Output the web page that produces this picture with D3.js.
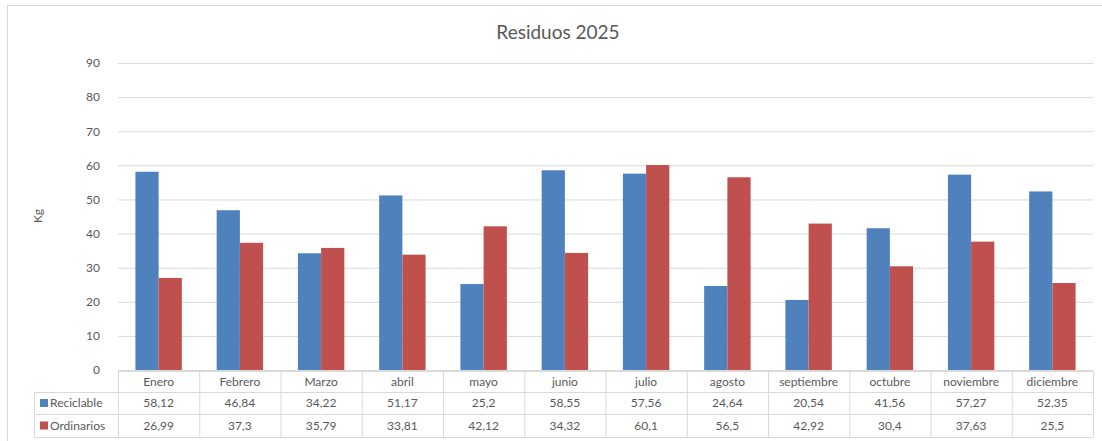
<!DOCTYPE html>
<html>
<head>
<meta charset="utf-8">
<script src="https://d3js.org/d3.v7.min.js"></script>
<style>
  body { margin: 0; background: #fff; }
  text { font-family: Lato, "Open Sans", sans-serif; fill: #595959; }
</style>
</head>
<body>
<script>
// data
const months = ["Enero", "Febrero", "Marzo", "abril", "mayo", "junio", "julio",
  "agosto", "septiembre", "octubre", "noviembre", "diciembre"];
const reciclable = [58.12, 46.84, 34.22, 51.17, 25.2, 58.55, 57.56, 24.64, 20.54, 41.56, 57.27, 52.35];
const ordinarios = [26.99, 37.3, 35.79, 33.81, 42.12, 34.32, 60.1, 56.5, 42.92, 30.4, 37.63, 25.5];
const seriesNames = ["Reciclable", "Ordinarios"];
const seriesColors = ["#4F81BD", "#C0504D"];
const yTicks = [0, 10, 20, 30, 40, 50, 60, 70, 80, 90];

const W = 1102, H = 441;
const plot = { left: 118, right: 1093, top: 63, bottom: 370 };
const tableLeft = 34, rowH = [21, 22, 23];

const svg = d3.select("body").append("svg")
  .attr("width", W).attr("height", H);

// outer chart frame
svg.append("rect")
  .attr("x", 7.5).attr("y", 5.5)
  .attr("width", W + 10).attr("height", H + 10)
  .attr("fill", "none").attr("stroke", "#d9d9d9");

svg.append("text")
  .attr("x", 558).attr("y", 39)
  .attr("text-anchor", "middle")
  .style("font-size", "19px")
  .text("Residuos 2025");

const x = d3.scaleBand().domain(months).range([plot.left, plot.right]).paddingInner(0).paddingOuter(0);
const inner = d3.scaleBand().domain(seriesNames)
  .range([0, x.bandwidth()]).paddingInner(0).paddingOuter(0.75);
const y = d3.scaleLinear().domain([0, 90]).range([plot.bottom, plot.top]);

// gridlines + tick labels
const yAxis = d3.axisLeft(y).tickValues(yTicks)
  .tickSize(-(plot.right - plot.left)).tickPadding(18);
const ga = svg.append("g").attr("transform", `translate(${plot.left},0)`).call(yAxis);
ga.select(".domain").remove();
ga.selectAll(".tick line").attr("stroke", "#d9d9d9");
ga.selectAll(".tick text").style("font-size", "12px").attr("fill", "#595959");

svg.append("text")
  .attr("transform", "translate(42,216) rotate(-90)")
  .attr("text-anchor", "middle")
  .style("font-size", "12px")
  .text("Kg");

// bars
const series = [reciclable, ordinarios];
series.forEach((vals, si) => {
  svg.append("g").selectAll("rect")
    .data(vals)
    .join("rect")
    .attr("x", (d, i) => x(months[i]) + inner(seriesNames[si]))
    .attr("width", inner.bandwidth())
    .attr("y", d => y(d))
    .attr("height", d => y(0) - y(d))
    .attr("fill", seriesColors[si]);
});

// data table
const tbl = svg.append("g");
const r0 = plot.bottom + 1;
const r1 = r0 + rowH[0], r2 = r1 + rowH[1], r3 = r2 + rowH[2];
const lineCol = "#d9d9d9";
function hline(x1, x2, yy) {
  tbl.append("line").attr("x1", x1).attr("x2", x2).attr("y1", yy + 0.5).attr("y2", yy + 0.5)
    .attr("stroke", lineCol);
}
function vline(xx, y1, y2) {
  tbl.append("line").attr("x1", xx + 0.5).attr("x2", xx + 0.5).attr("y1", y1).attr("y2", y2)
    .attr("stroke", lineCol);
}
hline(plot.left, plot.right, r0);
hline(tableLeft, plot.right, r1);
hline(tableLeft, plot.right, r2);
hline(tableLeft, plot.right, r3);
vline(tableLeft, r1, r3);
months.forEach(m => vline(x(m), r0, r3));
vline(plot.right, r0, r3);

tbl.selectAll("text.cat").data(months).join("text")
  .attr("class", "cat")
  .attr("x", d => x(d) + x.bandwidth() / 2)
  .attr("y", r0 + 15)
  .attr("text-anchor", "middle")
  .style("font-size", "12px")
  .text(d => d);

const fmt = v => String(v).replace(".", ",");
const rowTops = [r1, r2];
series.forEach((vals, si) => {
  const ry = rowTops[si];
  const rh = rowH[si + 1];
  tbl.append("rect")
    .attr("x", tableLeft + 6).attr("y", ry + rh / 2 - 4)
    .attr("width", 8).attr("height", 8)
    .attr("fill", seriesColors[si]);
  tbl.append("text")
    .attr("x", tableLeft + 16).attr("y", ry + rh / 2 + 4)
    .style("font-size", "12px")
    .text(seriesNames[si]);
  tbl.selectAll(null).data(vals).join("text")
    .attr("x", (d, i) => x(months[i]) + x.bandwidth() / 2)
    .attr("y", ry + rh / 2 + 4)
    .attr("text-anchor", "middle")
    .style("font-size", "12px")
    .text(d => fmt(d));
});
</script>
</body>
</html>
